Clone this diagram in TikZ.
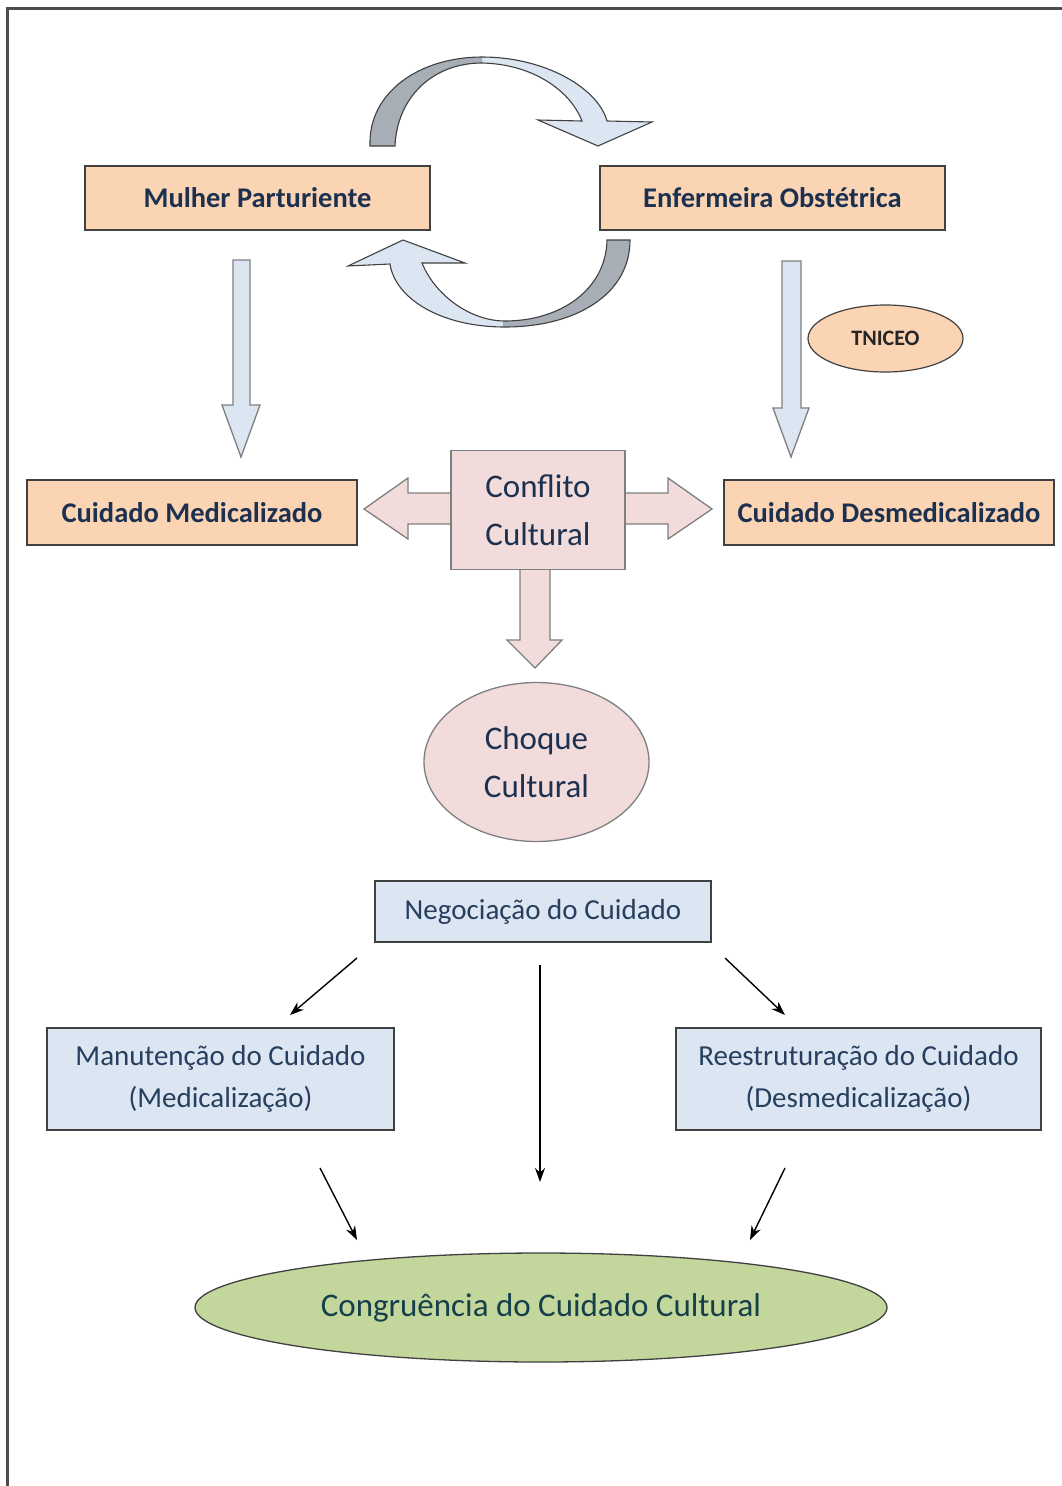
\documentclass[tikz,border=0pt]{standalone}
\usepackage{fontspec}
\setmainfont{Carlito}
\usetikzlibrary{arrows.meta,shapes.geometric}

\definecolor{peach}{HTML}{FBD4B4}
\definecolor{rosefill}{HTML}{F2DCDB}
\definecolor{paleblue}{HTML}{DCE6F2}
\definecolor{olivefill}{HTML}{C3D69B}
\definecolor{edgegray}{HTML}{404040}
\definecolor{softedge}{HTML}{7F7F7F}
\definecolor{framegray}{HTML}{4D4D4D}
\definecolor{navytext}{HTML}{1C3150}
\definecolor{steeltext}{HTML}{263F5E}
\definecolor{tealtext}{HTML}{143F4B}
\definecolor{ribbongray}{HTML}{A7AEB6}

\tikzset{
  peachbox/.style={draw=edgegray, line width=1.4pt, fill=peach, inner sep=0pt,
    text=navytext, font=\bfseries\fontsize{28.5}{34}\selectfont},
  bluebox/.style={draw=edgegray, line width=1.2pt, fill=paleblue, inner sep=0pt,
    text=steeltext, align=center, font=\fontsize{29}{42}\selectfont},
  rosebox/.style={draw=softedge, line width=1.3pt, fill=rosefill, inner sep=0pt,
    text=navytext, align=center, font=\fontsize{33}{48}\selectfont},
  blockarrow/.style={draw=softedge, line width=1.3pt, line join=miter},
  thinarrow/.style={draw=black, line width=1.4pt, -{Stealth[length=14pt,width=10pt]}},
  ribbonedge/.style={draw=edgegray, line width=1.1pt},
  % curved arrow over the top, from the woman to the nurse
  upperribbon/.style={insert path={
    (370,146) .. controls (368,92) and (420,57) .. (482,57)
    .. controls (545,57) and (598,88) .. (607,121)
    -- (652,122) -- (598,146) -- (538,120) -- (582,121)
    .. controls (570,90) and (532,64) .. (482,63)
    .. controls (432,63) and (397,98) .. (395,146) -- cycle}},
  % curved arrow underneath, from the nurse back to the woman
  lowerribbon/.style={insert path={
    (630,240) .. controls (630,295) and (575,327) .. (505,327)
    .. controls (440,327) and (395,298) .. (390,264)
    -- (348,266) -- (403,240) -- (465,263) -- (422,263)
    .. controls (435,295) and (470,321) .. (505,321)
    .. controls (560,321) and (606,290) .. (607,240) -- cycle}}
}

\begin{document}
\begin{tikzpicture}[x=1pt,y=-1pt]
\useasboundingbox (0,0) rectangle (1062,1486);

% page frame (top and left edges)
\draw[framegray, line width=3pt] (6,8) -- (1062,8);
\draw[framegray, line width=3pt] (7,8) -- (7,1486);

% top boxes
\node[peachbox, minimum width=345pt, minimum height=64pt] (mulher) at (257.5,198) {Mulher Parturiente};
\node[peachbox, minimum width=345pt, minimum height=64pt] (enfermeira) at (772.5,198) {Enfermeira Obstétrica};

% circular exchange between the two top boxes
\fill[paleblue, upperribbon];
\begin{scope}
  \clip (300,0) rectangle (482,200);
  \fill[ribbongray, upperribbon];
\end{scope}
\path[ribbonedge, upperribbon];

\fill[paleblue, lowerribbon];
\begin{scope}
  \clip (503,230) rectangle (700,340);
  \fill[ribbongray, lowerribbon];
\end{scope}
\path[ribbonedge, lowerribbon];

% vertical block arrows
\filldraw[blockarrow, fill=paleblue] (233,260) -- (250,260) -- (250,405) -- (260,405)
  -- (241,457) -- (222,405) -- (233,405) -- cycle;
\filldraw[blockarrow, fill=paleblue] (782,261) -- (801,261) -- (801,408) -- (809,408)
  -- (791,457) -- (773,408) -- (782,408) -- cycle;

\node[ellipse, draw=edgegray, line width=1.2pt, fill=peach, inner sep=0pt,
  minimum width=155pt, minimum height=67pt, text=black!85,
  font=\bfseries\fontsize{22}{26}\selectfont] (tniceo) at (885.5,338.5) {TNICEO};

% second row
\node[peachbox, minimum width=330pt, minimum height=65pt] (medical) at (192,512.5) {Cuidado Medicalizado};
\node[peachbox, minimum width=330pt, minimum height=65pt] (desmedical) at (889,512.5) {Cuidado Desmedicalizado};

% cultural conflict with its three block arrows
\filldraw[blockarrow, fill=rosefill] (451,493) -- (408,493) -- (408,478) -- (364,509)
  -- (408,539) -- (408,524) -- (451,524) -- cycle;
\filldraw[blockarrow, fill=rosefill] (625,493) -- (668,493) -- (668,478) -- (712,509)
  -- (668,539) -- (668,524) -- (625,524) -- cycle;
\filldraw[blockarrow, fill=rosefill] (520,566) -- (520,640) -- (507,640) -- (535,668)
  -- (562,640) -- (550,640) -- (550,566) -- cycle;
\node[rosebox, minimum width=174pt, minimum height=119pt] (conflito) at (538,510) {Conflito\\Cultural};

\node[rosebox, ellipse, minimum width=225pt, minimum height=159pt] (choque) at (536.5,762) {Choque\\Cultural};

% negotiation of care
\node[bluebox, minimum width=336pt, minimum height=61pt] (negociacao) at (543,911.5) {Negociação do Cuidado};
\node[bluebox, minimum width=347pt, minimum height=102pt] (manutencao) at (220.5,1079) {Manutenção do Cuidado\\(Medicalização)};
\node[bluebox, minimum width=365pt, minimum height=102pt] (reestruturacao) at (858.5,1079) {Reestruturação do Cuidado\\(Desmedicalização)};

\node[ellipse, draw=edgegray, line width=1.3pt, fill=olivefill, inner sep=0pt,
  minimum width=692pt, minimum height=109pt, text=tealtext,
  font=\fontsize{33}{40}\selectfont] (congruencia) at (541,1307.5) {Congruência do Cuidado Cultural};

% thin connectors
\coordinate (nl) at (357,958);  \coordinate (ml) at (290,1015);
\coordinate (nc) at (540,965);  \coordinate (cc) at (540,1182);
\coordinate (nr) at (725,958);  \coordinate (mr) at (785,1015);
\coordinate (bl) at (320,1168); \coordinate (cl) at (357,1240);
\coordinate (br) at (785,1168); \coordinate (cr) at (750,1240);
\draw[thinarrow] (nl) -- (ml);
\draw[thinarrow] (nc) -- (cc);
\draw[thinarrow] (nr) -- (mr);
\draw[thinarrow] (bl) -- (cl);
\draw[thinarrow] (br) -- (cr);
\end{tikzpicture}
\end{document}
